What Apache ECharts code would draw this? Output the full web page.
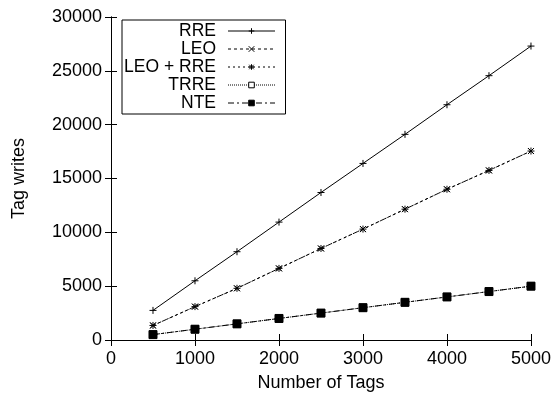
<!DOCTYPE html>
<html>
<head>
<meta charset="utf-8">
<script src="https://cdn.jsdelivr.net/npm/echarts@6/dist/echarts.min.js"></script>
<style>
html,body{margin:0;padding:0;background:#fff;}
#chart{width:554px;height:399px;}
</style>
</head>
<body>
<div id="chart"></div>
<script>
// Number of tags on the x axis
const tagCounts = [500, 1000, 1500, 2000, 2500, 3000, 3500, 4000, 4500, 5000];
// Tag writes per protocol
const rre = [2750, 5500, 8200, 10950, 13700, 16400, 19100, 21850, 24550, 27300];
const leo = [1350, 3100, 4800, 6650, 8500, 10300, 12150, 14000, 15750, 17550];
const leoRre = [1350, 3100, 4800, 6650, 8500, 10300, 12150, 14000, 15750, 17550];
const trre = [500, 1000, 1500, 2000, 2500, 3000, 3500, 4000, 4500, 5000];
const nte = [500, 1000, 1500, 2000, 2500, 3000, 3500, 4000, 4500, 5000];
const seriesNames = ['RRE', 'LEO', 'LEO + RRE', 'TRRE', 'NTE'];

const FONT = 'Liberation Sans, Arial, sans-serif';
const pair = arr => tagCounts.map((x, i) => [x, arr[i]]);

const plusPath = 'path://M0,5L10,5M5,0L5,10';
const crossPath = 'path://M0,0L10,10M10,0L0,10';
const starPath = 'path://M0,5L10,5M5,0L5,10M1,1L9,9M9,1L1,9';

function mk(name, data, symbol, size, dash, fill) {
  return {
    name: name,
    type: 'line',
    data: pair(data),
    symbol: symbol,
    symbolSize: size,
    showAllSymbol: true,
    lineStyle: { color: '#000', width: 1, type: dash },
    itemStyle: { color: fill, borderColor: '#000', borderWidth: 1 },
    animation: false
  };
}

const chart = echarts.init(document.getElementById('chart'), null, { renderer: 'canvas' });
const axisCommon = {
  axisLine: { lineStyle: { color: '#000', width: 1 } },
  axisTick: { inside: true, length: 6, lineStyle: { color: '#000' } },
  splitLine: { show: false }
};
const plainNum = v => String(v);
chart.setOption({
  backgroundColor: '#fff',
  animation: false,
  grid: { left: 111, right: 21, top: 17, bottom: 59 },
  legend: {
    data: seriesNames,
    orient: 'vertical',
    left: 122,
    top: 20,
    align: 'right',
    itemWidth: 47,
    itemHeight: 7,
    itemGap: 0,
    padding: [2, 10, 2, 2],
    borderColor: '#000',
    borderWidth: 1,
    backgroundColor: '#fff',
    lineStyle: { width: 1 },
    itemStyle: { borderWidth: 1 },
    textStyle: { fontFamily: FONT, fontSize: 17.5, lineHeight: 17, color: '#000', align: 'right', width: 92, padding: [0, 7, 0, 0] }
  },
  xAxis: [
    Object.assign({
      type: 'value', min: 0, max: 5000, interval: 1000, position: 'bottom',
      name: 'Number of Tags', nameLocation: 'middle', nameGap: 34,
      nameTextStyle: { fontFamily: FONT, fontSize: 18, color: '#000' },
      axisLabel: { fontFamily: FONT, fontSize: 18, color: '#000', margin: 10, formatter: plainNum }
    }, axisCommon),
    Object.assign({
      type: 'value', min: 0, max: 5000, interval: 1000, position: 'top',
      axisLabel: { show: false }
    }, axisCommon)
  ],
  yAxis: [
    Object.assign({
      type: 'value', min: 0, max: 30000, interval: 5000, position: 'left',
      name: 'Tag writes', nameLocation: 'middle', nameGap: 83,
      nameTextStyle: { fontFamily: FONT, fontSize: 18, color: '#000' },
      axisLabel: { fontFamily: FONT, fontSize: 18, color: '#000', margin: 9, formatter: plainNum }
    }, axisCommon),
    Object.assign({
      type: 'value', min: 0, max: 30000, interval: 5000, position: 'right',
      axisLabel: { show: false }
    }, axisCommon)
  ],
  series: [
    mk('RRE', rre, plusPath, 7, 'solid', 'none'),
    mk('LEO', leo, crossPath, 6, [3, 3], 'none'),
    mk('LEO + RRE', leoRre, starPath, 7, [2, 3], 'none'),
    mk('TRRE', trre, 'rect', 7, [1, 1], '#fff'),
    mk('NTE', nte, 'rect', 8, [6, 3, 2, 3], '#000')
  ]
});
</script>
</body>
</html>
